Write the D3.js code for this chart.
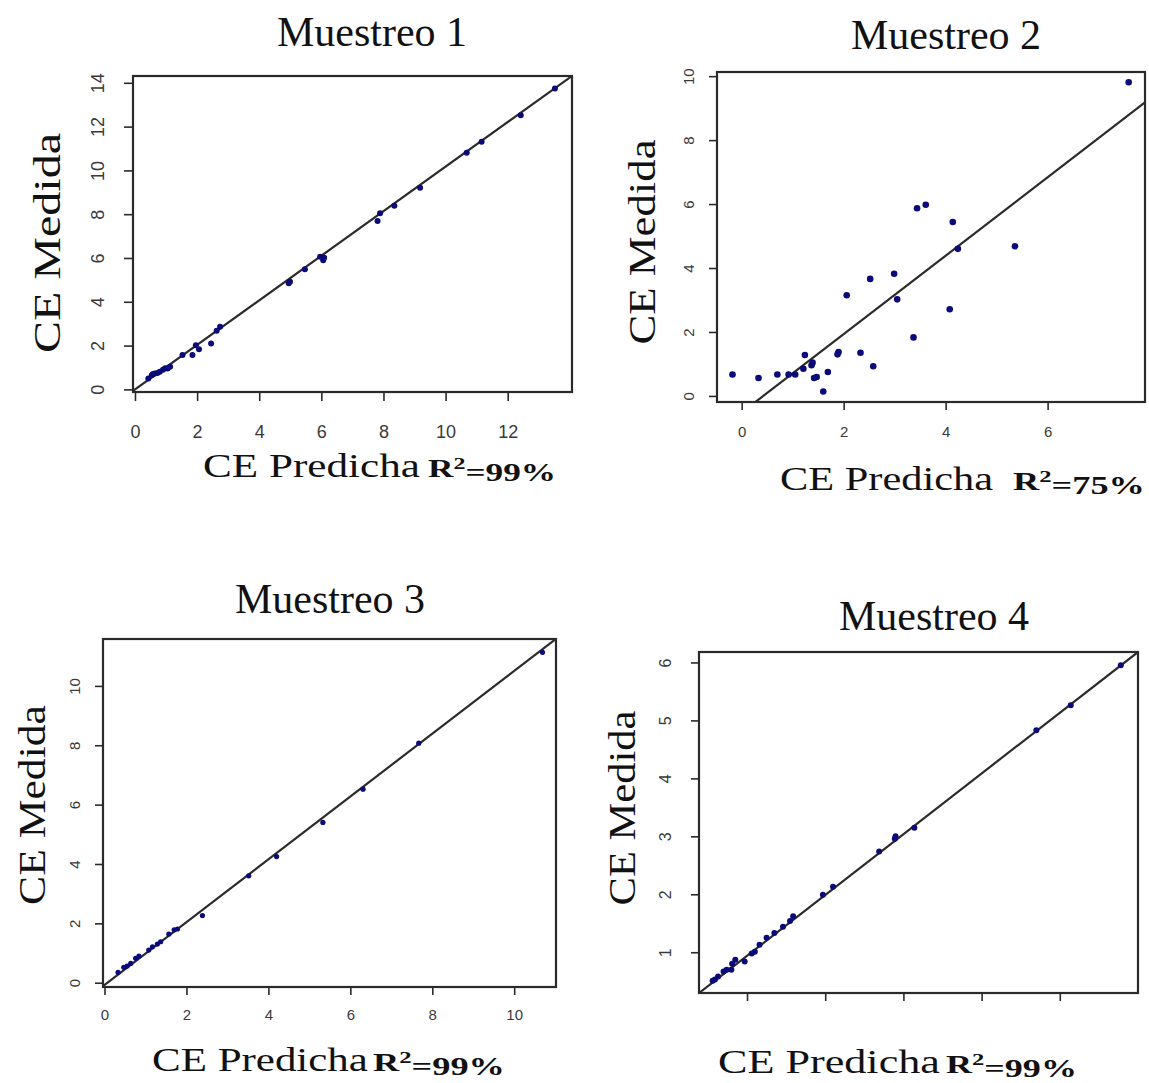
<html>
  <head>
    <script src="https://d3js.org/d3.v7.min.js"></script>
    <style>
      body { margin: 0; background: #fff; }
      .title, .lab { font-family: "Liberation Serif", "Times New Roman", serif; fill: #111; }
      .tick text { font-family: "Liberation Sans", Arial, sans-serif; fill: #3a3a3a; }
      .tick line { stroke: #2a2a2a; stroke-width: 1.6; }
      .domain { display: none; }
    </style>
  </head>
  <body>
    <svg id="chart" width="1149" height="1083"></svg>
    <script>
      // Muestreo 1 (CE predicha vs CE medida)
      const m1Pred = [13.52, 12.42, 11.16, 10.68, 9.18, 8.35, 7.89, 7.81, 6.09, 5.96, 6.06, 5.47, 4.99, 4.95, 2.74, 2.63, 2.45, 2.06, 1.96, 1.85, 1.53, 1.13, 1.05, 0.97, 0.90, 0.80, 0.72, 0.64, 0.58, 0.54, 0.43];
      const m1Med  = [13.74, 12.52, 11.31, 10.80, 9.21, 8.39, 8.04, 7.69, 6.01, 6.06, 5.90, 5.48, 4.92, 4.85, 2.86, 2.68, 2.10, 1.83, 2.02, 1.57, 1.57, 1.03, 0.95, 0.96, 0.90, 0.81, 0.75, 0.73, 0.70, 0.65, 0.50];
      // Muestreo 2
      const m2Pred = [7.59, 3.61, 3.44, 4.14, 4.24, 5.36, 2.99, 2.52, 3.05, 2.06, 4.08, 3.37, 1.90, 1.88, 2.33, 2.58, 1.69, 1.60, 1.47, 1.42, 1.39, 1.37, 1.24, 1.21, 1.05, 0.92, 0.70, 0.33, -0.18];
      const m2Med  = [9.81, 5.98, 5.87, 5.44, 4.60, 4.68, 3.82, 3.66, 3.02, 3.15, 2.71, 1.83, 1.37, 1.30, 1.35, 0.93, 0.75, 0.14, 0.59, 0.56, 1.04, 0.96, 1.28, 0.85, 0.67, 0.67, 0.67, 0.56, 0.67];
      // Muestreo 3
      const m3Pred = [10.69, 7.67, 6.31, 5.33, 4.20, 3.52, 2.39, 1.78, 1.70, 1.57, 1.37, 1.29, 1.17, 1.08, 0.84, 0.76, 0.64, 0.55, 0.47, 0.33];
      const m3Med  = [11.13, 8.07, 6.52, 5.40, 4.25, 3.60, 2.26, 1.81, 1.78, 1.64, 1.38, 1.30, 1.21, 1.10, 0.90, 0.82, 0.65, 0.56, 0.52, 0.35];
      // Muestreo 4
      const m4Pred = [5.78, 5.14, 4.70, 3.14, 2.90, 2.89, 2.69, 2.10, 1.97, 1.59, 1.55, 1.46, 1.35, 1.25, 1.16, 1.10, 1.06, 0.97, 0.85, 0.81, 0.80, 0.74, 0.70, 0.63, 0.59, 0.56];
      const m4Med  = [5.95, 5.26, 4.83, 3.15, 3.00, 2.96, 2.74, 2.13, 1.99, 1.62, 1.54, 1.44, 1.33, 1.25, 1.13, 1.01, 0.98, 0.84, 0.87, 0.80, 0.70, 0.70, 0.67, 0.58, 0.53, 0.51];

      // fitted lines: [intercept, slope]
      const fit1 = [0, 1.017];
      const fit2 = [-0.52, 1.226];
      const fit3 = [-0.075, 1.058];
      const fit4 = [-0.108, 1.048];

      const titles = ["Muestreo 1", "Muestreo 2", "Muestreo 3", "Muestreo 4"];
      const r2Labels = ["99%", "75%", "99%", "99%"];
      const xTicks1 = [0, 2, 4, 6, 8, 10, 12];
      const yTicks1 = [0, 2, 4, 6, 8, 10, 12, 14];
      const xTicks2 = [0, 2, 4, 6];
      const yTicks2 = [0, 2, 4, 6, 8, 10];
      const xTicks3 = [0, 2, 4, 6, 8, 10];
      const yTicks3 = [0, 2, 4, 6, 8, 10];
      const xTicks4 = [1, 2, 3, 4, 5];
      const yTicks4 = [1, 2, 3, 4, 5, 6];

      const svg = d3.select("svg#chart");

      const panels = [
        {x: m1Pred, y: m1Med, fit: fit1, xt: xTicks1, yt: yTicks1, showX: true,
         box: [133, 76, 572, 392], xd: [-0.064, 14.07], yd: [-0.12, 14.31],
         fs: 18, ylOff: 35, xlOff: 40, tick: 9, r: 3,
         title: [372, 46], xlab: [203, 420, 477], r2: [428, 556], ylab: [60, 243, 133, 353]},
        {x: m2Pred, y: m2Med, fit: fit2, xt: xTicks2, yt: yTicks2, showX: true,
         box: [717, 72, 1145, 402], xd: [-0.484, 7.91], yd: [-0.19, 10.13],
         fs: 15, ylOff: 28, xlOff: 30, tick: 8, r: 3.3,
         title: [946, 49], xlab: [780, 993, 490], r2: [1013, 1145], ylab: [655, 242, 140, 345]},
        {x: m3Pred, y: m3Med, fit: fit3, xt: xTicks3, yt: yTicks3, showX: true,
         box: [103, 639, 556, 987], xd: [-0.037, 11.02], yd: [-0.145, 11.58],
         fs: 15, ylOff: 28, xlOff: 28, tick: 8, r: 2.6,
         title: [330, 613], xlab: [152, 368, 1071], r2: [373, 505], ylab: [45, 805, 705, 905]},
        {x: m4Pred, y: m4Med, fit: fit4, xt: xTicks4, yt: yTicks4, showX: false,
         box: [699, 652, 1138, 993], xd: [0.386, 6.0], yd: [0.297, 6.18],
         fs: 16, ylOff: 34, xlOff: 30, tick: 8, r: 3,
         title: [934, 630], xlab: [718, 940, 1073], r2: [946, 1077], ylab: [635, 808, 710, 905]}
      ];

      panels.forEach((p, i) => {
        const [x0, y0, x1, y1] = p.box;
        const xScale = d3.scaleLinear().domain(p.xd).range([x0, x1]);
        const yScale = d3.scaleLinear().domain(p.yd).range([y1, y0]);
        const g = svg.append("g");

        const clipId = "clip" + i;
        svg.append("clipPath").attr("id", clipId)
          .append("rect").attr("x", x0).attr("y", y0).attr("width", x1 - x0).attr("height", y1 - y0);

        // fitted line
        const lx = p.xd;
        g.append("line")
          .attr("clip-path", `url(#${clipId})`)
          .attr("x1", xScale(lx[0])).attr("y1", yScale(p.fit[0] + p.fit[1] * lx[0]))
          .attr("x2", xScale(lx[1])).attr("y2", yScale(p.fit[0] + p.fit[1] * lx[1]))
          .attr("stroke", "#2b2b2b").attr("stroke-width", 2.2);

        // points
        g.selectAll("circle")
          .data(p.x.map((v, k) => [v, p.y[k]]))
          .join("circle")
          .attr("cx", d => xScale(d[0]))
          .attr("cy", d => yScale(d[1]))
          .attr("r", p.r)
          .attr("fill", "#0a0a78");

        // box
        g.append("rect")
          .attr("x", x0).attr("y", y0).attr("width", x1 - x0).attr("height", y1 - y0)
          .attr("fill", "none").attr("stroke", "#2a2a2a").attr("stroke-width", 2.2);

        // axes
        const xAxis = g.append("g")
          .attr("transform", `translate(0,${y1})`)
          .call(d3.axisBottom(xScale).tickValues(p.xt).tickFormat(d3.format("d")).tickSize(p.tick).tickSizeOuter(0));
        xAxis.selectAll("text")
          .style("font-size", p.fs + "px")
          .attr("y", p.xlOff).attr("dy", "0.35em")
          .style("display", p.showX ? null : "none");

        const yAxis = g.append("g")
          .attr("transform", `translate(${x0},0)`)
          .call(d3.axisLeft(yScale).tickValues(p.yt).tickFormat(d3.format("d")).tickSize(p.tick).tickSizeOuter(0));
        yAxis.selectAll("text")
          .style("font-size", p.fs + "px")
          .attr("text-anchor", "middle")
          .attr("x", 0).attr("dy", 0)
          .attr("transform", `translate(${-p.ylOff + 0.36 * p.fs},0) rotate(-90)`);

        // title
        g.append("text").attr("class", "title")
          .attr("x", p.title[0]).attr("y", p.title[1])
          .attr("text-anchor", "middle")
          .style("font-size", "42px")
          .text(titles[i]);

        // x label, stretched to the width seen in the picture
        const xl = g.append("text").attr("class", "lab")
          .style("font-size", "33px")
          .text("CE Predicha");
        const xw = xl.node().getComputedTextLength();
        xl.attr("transform", `translate(${p.xlab[0]},${p.xlab[2]}) scale(${(p.xlab[1] - p.xlab[0]) / xw},1)`);

        // R² label
        const r2 = g.append("text").attr("class", "lab")
          .style("font-size", "25px").style("font-weight", "bold");
        r2.append("tspan").text("R");
        r2.append("tspan").attr("dy", "-0.5em").style("font-size", "17px").text("2");
        r2.append("tspan").attr("dy", "0.5em").text("=" + r2Labels[i]);
        const rw = r2.node().getBBox().width;
        r2.attr("transform", `translate(${p.r2[0]},${p.xlab[2]}) scale(${(p.r2[1] - p.r2[0]) / rw},1)`);

        // y label
        const yl = g.append("text").attr("class", "lab")
          .attr("text-anchor", "middle")
          .style("font-size", "38px")
          .text("CE Medida");
        const yw = yl.node().getComputedTextLength();
        yl.attr("transform", `translate(${p.ylab[0]},${p.ylab[1]}) rotate(-90) scale(${(p.ylab[3] - p.ylab[2]) / yw},1)`);
      });
    </script>
  </body>
</html>
